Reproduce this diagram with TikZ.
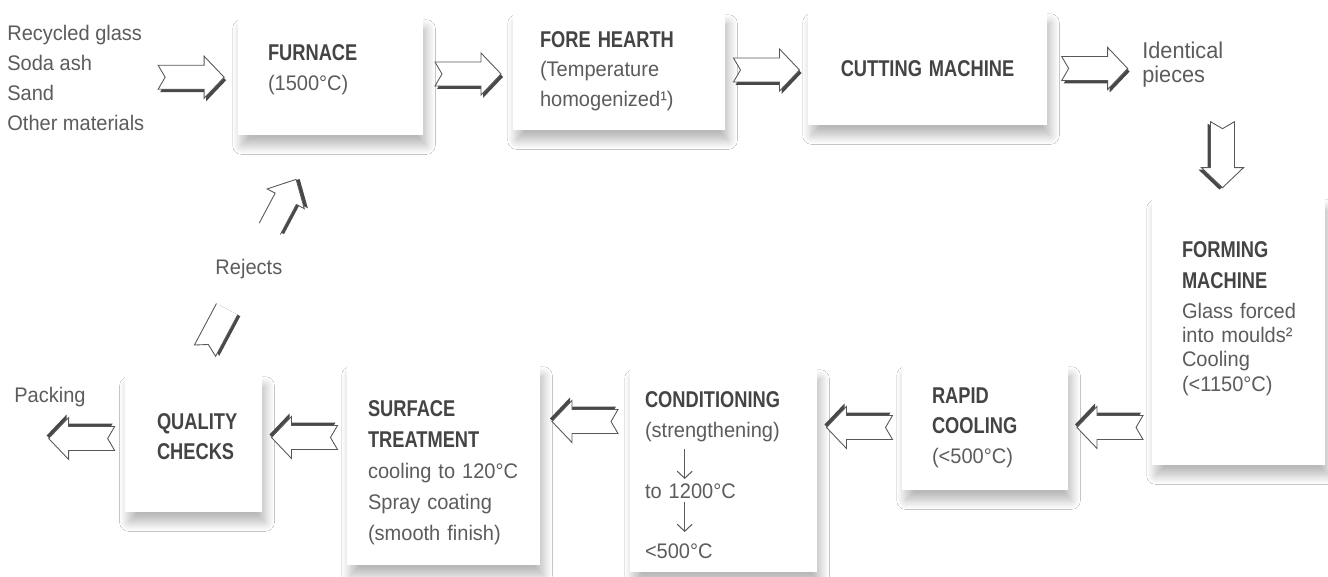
\documentclass[tikz,border=0pt]{standalone}
\usepackage{fontspec}
\setmainfont{Liberation Sans}[FakeStretch=0.95]
\newfontfamily\headfont{Liberation Sans}[FakeStretch=0.8]
\usepackage{xcolor}
\usepackage{tikz}
\usetikzlibrary{arrows.meta,calc,shadows.blur}
\definecolor{figtext}{RGB}{92,92,92}
\definecolor{fighead}{RGB}{68,68,68}
\definecolor{arrline}{RGB}{88,88,88}
\definecolor{arrdark}{RGB}{72,72,72}
\newcommand\stagehead[1]{{\headfont\bfseries\fontsize{13}{17}\selectfont\color{fighead}#1}}
\newcommand\liftby[1]{\rule[-#1]{0pt}{0pt}}
\newcommand\dropby[1]{\rule{0pt}{#1}}
\tikzset{
  stage/.style   ={fill=white, align=left, inner ysep=0pt, text=figtext,
                   font=\fontsize{12}{17}\selectfont,
                   blur shadow={shadow xshift=2pt, shadow yshift=-6pt,
                                shadow blur radius=5pt, shadow blur steps=16,
                                shadow opacity=28}},
  freetext/.style={text=figtext, align=left, inner sep=0pt,
                   font=\fontsize{12}{17}\selectfont},
  thinarr/.style ={draw=figtext, line width=0.6pt,
                   -{Straight Barb[length=4pt,width=8.5pt]}},
  bigarr/.pic    ={
    \fill[arrdark,shift={(2,3)}] (-33,-12) -- (13,-12) -- (13,-21) -- (33,0)
      -- (13,21) -- (13,12) -- (-33,12) -- (-26,0) -- cycle;
    \filldraw[fill=white,draw=arrline,line width=0.5pt] (-33,-12) -- (13,-12)
      -- (13,-21) -- (33,0) -- (13,21) -- (13,12) -- (-33,12) -- (-26,0) -- cycle;
  },
}

\begin{document}
\begin{tikzpicture}[x=0.02cm, y=-0.02cm]
  \fill[white] (0,0) rectangle (1328,577);
  \useasboundingbox (0,0) rectangle (1328,577);
  % top row
  \node[freetext, anchor=west] (inputs) at (7,78)
    {Recycled glass\\Soda ash\\Sand\\Other materials};
  \node[stage, minimum width=3.7cm, minimum height=2.34cm, inner xsep=0.6cm,
        text width=2.5cm] (furnace) at (330.5,76.5)
    {\stagehead{FURNACE}\\(1500°C)\liftby{0.36cm}};
  \node[stage, minimum width=4.24cm, minimum height=2.34cm, inner xsep=0.54cm,
        text width=3.16cm] (hearth) at (619,71.5)
    {\stagehead{FORE HEARTH}\\(Temperature\\homogenized¹)\liftby{0.1cm}};
  \node[stage, minimum width=4.78cm, minimum height=2.26cm, inner xsep=0.39cm,
        text width=4cm, align=center] (cutting) at (927.5,68.5)
    {\stagehead{CUTTING MACHINE}};
  \node[freetext, anchor=west, font=\fontsize{13}{13.6}\selectfont] (pieces)
    at (1142,65) {Identical\\pieces};
  \pic at ($(inputs.east)!0.5!(furnace.west)$) {bigarr};
  \pic at ($(furnace.east)!0.5!(hearth.west)$) {bigarr};
  \pic at ($(hearth.east)!0.5!(cutting.west)$) {bigarr};
  \pic at ($(cutting.east)!0.5!(pieces.west |- cutting.east)$) {bigarr};
  % right column
  \node[stage, minimum width=3.46cm, minimum height=5.34cm, inner xsep=0.6cm,
        text width=2.26cm, font=\fontsize{12}{13.8}\selectfont] (forming)
    at (1238.5,331.5)
    {\stagehead{FORMING}\\[3.4pt]\stagehead{MACHINE}\\[3.4pt]Glass~forced\\
     into~moulds²\\Cooling\\(<1150°C)\liftby{0.6cm}};
  \pic[rotate=-90] at ($(forming.north)+(-16,-43)$) {bigarr};
  % bottom row
  \node[stage, minimum width=3.32cm, minimum height=2.5cm, inner xsep=0.6cm,
        text width=2.12cm] (rapid) at (985,427.5)
    {\stagehead{RAPID}\\\stagehead{COOLING}\\(<500°C)};
  \node[stage, minimum width=3.74cm, minimum height=4.08cm, inner xsep=0.3cm,
        text width=3.14cm] (cond) at (723.5,470)
    {\dropby{15pt}\stagehead{CONDITIONING}\\(strengthening)\\[17.5pt]to~1200°C\\[17.5pt]<500°C};
  \node[stage, minimum width=3.86cm, minimum height=4cm, inner xsep=0.42cm,
        text width=3.02cm, font=\fontsize{12}{17.6}\selectfont] (surface)
    at (443.5,465)
    {\dropby{18pt}\stagehead{SURFACE}\\\stagehead{TREATMENT}\\cooling~to~120°C\\
     Spray~coating\\(smooth~finish)};
  \node[stage, minimum width=2.74cm, minimum height=2.74cm, inner xsep=0.64cm,
        text width=1.46cm] (quality) at (193.5,443.5)
    {\stagehead{QUALITY}\\\stagehead{CHECKS}\liftby{0.28cm}};
  \node[freetext, anchor=west] (packing) at (14,397) {Packing};
  \draw[thinarr] ($(cond.west)+(55,-21)$) -- ++(0,30);
  \draw[thinarr] ($(cond.west)+(55,32)$) -- ++(0,30);
  \pic[rotate=180] at ($(rapid.east)!0.5!(forming.west |- rapid.east)$) {bigarr};
  \pic[rotate=180] at ($(cond.east |- rapid.west)!0.5!(rapid.west)$) {bigarr};
  \pic[rotate=180] at ($(surface.east |- rapid.west)!0.5!(cond.west |- rapid.west)+(0,-6)$) {bigarr};
  \pic[rotate=180] at ($(quality.east)!0.5!(surface.west |- quality.east)+(0,-6)$) {bigarr};
  \pic[rotate=180] at ($(quality.west)+(-43,-5)$) {bigarr};
  % rejects back to the furnace
  \coordinate (rejtail) at ($(quality.north)+(11.5,-24)$);
  \coordinate (rejtip) at ($(furnace.south)+(-33.5,45)$);
  \node[freetext] (rejects) at ($(rejtail)!0.477!(rejtip)$) {Rejects};
  \begin{scope}[shift={(rejtail)}, rotate=62]
    \fill[arrdark,shift={(2,3)}] (45,-12) -- (0,-12) -- (7,0) -- (0,12) -- (45,12) -- cycle;
    \fill[white] (47,-12) -- (0,-12) -- (7,0) -- (0,12) -- (47,12) -- cycle;
    \draw[arrline,line width=0.5pt] (47,-12) -- (0,-12) -- (7,0) -- (0,12) -- (47,12);
    \fill[arrdark,shift={(2,3)}] (138,-12) -- (172,-12) -- (172,-21) -- (194,0)
      -- (172,21) -- (172,12) -- (138,12) -- cycle;
    \fill[white] (138,-12) -- (172,-12) -- (172,-21) -- (194,0) -- (172,21)
      -- (172,12) -- (138,12) -- cycle;
    \draw[arrline,line width=0.5pt] (138,-12) -- (172,-12) -- (172,-21) -- (194,0)
      -- (172,21) -- (172,12) -- (138,12);
  \end{scope}
\end{tikzpicture}
\end{document}
